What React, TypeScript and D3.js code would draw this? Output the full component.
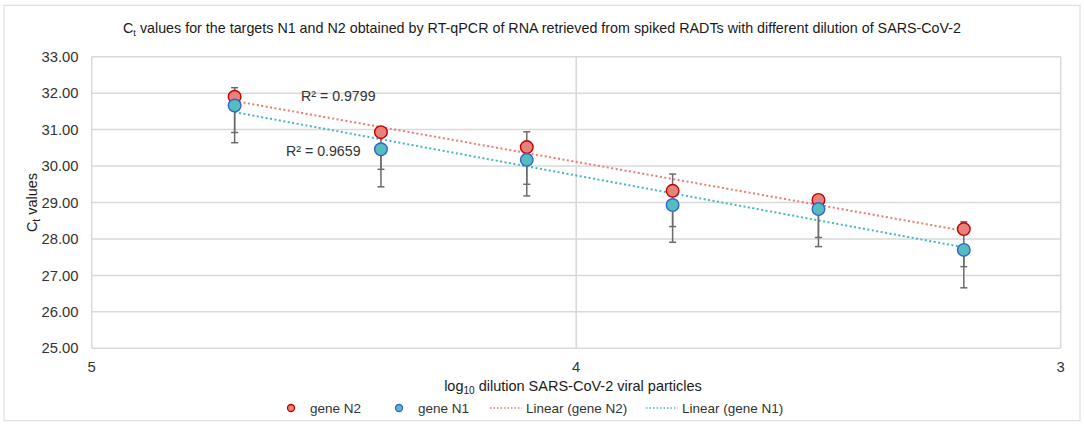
import React from "react";
import * as d3 from "d3";

// log10 dilution of viral particles (x) and mean Ct values
const dilutions = [4.705, 4.403, 4.102, 3.801, 3.5, 3.2];
const ctN2 = [31.9, 30.93, 30.52, 29.32, 29.07, 28.27];
const ctN1 = [31.66, 30.46, 30.17, 28.93, 28.82, 27.7];
const errN2Plus = [0.25, 0, 0.42, 0.46, 0, 0.2];
const errN2Minus = [0.98, 1.02, 1.02, 0.98, 1.03, 1.03];
const errN1Minus = [1.02, 1.03, 0.99, 1.02, 1.03, 1.04];
const yTicks = [25, 26, 27, 28, 29, 30, 31, 32, 33];
const xTicks = [5, 4, 3];
const r2Labels = ["R² = 0.9799", "R² = 0.9659"];

const W = 1084;
const H = 427;
const font = "'Liberation Sans', Arial, Helvetica, sans-serif";

const fit = (xs: number[], ys: number[]) => {
  const mx = d3.mean(xs)!;
  const my = d3.mean(ys)!;
  const b =
    d3.sum(xs, (x, i) => (x - mx) * (ys[i] - my)) /
    d3.sum(xs, (x) => (x - mx) ** 2);
  return (x: number) => my + b * (x - mx);
};

export default function App() {
  const x = d3.scaleLinear().domain([5, 3]).range([91.7, 1060.7]);
  const y = d3.scaleLinear().domain([25, 33]).range([348.3, 56.7]);

  const series = [
    { name: "gene N2", vals: ctN2, fill: "#e8837b", stroke: "#c00000", trend: "#ea7b73" },
    { name: "gene N1", vals: ctN1, fill: "#52bebf", stroke: "#3c5fcf", trend: "#3fb9c2" },
  ];

  const xFirst = dilutions[0];
  const xLast = dilutions[dilutions.length - 1];

  const cap = 3.5;
  const errColor = "#6b6b6b";

  return (
    <svg
      width={W}
      height={H}
      style={{ position: "absolute", left: 0, top: 0, background: "#fff" }}
      fontFamily={font}
    >
      <rect x={4} y={5.3} width={1076} height={415.4} fill="#fff" stroke="#d9d9d9" strokeWidth={1} />

      <text x={542} y={33} textAnchor="middle" fontSize={14.3} fill="#1a1a1a">
        C<tspan fontSize={9.5} dy={3}>t</tspan>
        <tspan dy={-3}> values for the targets N1 and N2 obtained by RT-qPCR of RNA retrieved from spiked RADTs with different dilution of SARS-CoV-2</tspan>
      </text>

      {/* grid */}
      {yTicks.map((t) => (
        <line key={"gy" + t} x1={x(5)} x2={x(3)} y1={y(t)} y2={y(t)} stroke="#d9d9d9" strokeWidth={1.5} />
      ))}
      {xTicks.map((t) => (
        <line key={"gx" + t} x1={x(t)} x2={x(t)} y1={y(25)} y2={y(33)} stroke="#d9d9d9" strokeWidth={1.5} />
      ))}

      {yTicks.map((t) => (
        <text key={"ty" + t} x={78.5} y={y(t)} dy="0.35em" textAnchor="end" fontSize={14.8} fill="#333">
          {t.toFixed(2)}
        </text>
      ))}
      {xTicks.map((t) => (
        <text key={"tx" + t} x={x(t)} y={367} dy="0.35em" textAnchor="middle" fontSize={14.8} fill="#333">
          {t}
        </text>
      ))}

      <text transform={`translate(37,${(y(25) + y(33)) / 2}) rotate(-90)`} textAnchor="middle" fontSize={14.5} fill="#1a1a1a">
        C<tspan fontSize={10} dy={3}>t</tspan>
        <tspan dy={-3}> values</tspan>
      </text>

      <text x={573} y={391} textAnchor="middle" fontSize={14.5} fill="#1a1a1a">
        log<tspan fontSize={10} dy={3}>10</tspan>
        <tspan dy={-3}> dilution SARS-CoV-2 viral particles</tspan>
      </text>

      {/* trendlines */}
      {series.map((s) => {
        const f = fit(dilutions, s.vals);
        const path = d3.line()([
          [x(xFirst), y(f(xFirst))],
          [x(xLast), y(f(xLast))],
        ]);
        return (
          <path key={"tr" + s.name} d={path as string} stroke={s.trend} strokeWidth={2} strokeDasharray="2,2.5" fill="none" />
        );
      })}

      {/* error bars */}
      {dilutions.map((d, i) => {
        const cx = x(d);
        const bars = [
          [ctN2[i] + errN2Plus[i], ctN2[i] - errN2Minus[i]],
          [ctN1[i], ctN1[i] - errN1Minus[i]],
        ];
        return (
          <g key={"e" + i} stroke={errColor} strokeWidth={1.5}>
            {bars.map(([hi, lo], j) => (
              <g key={j}>
                <line x1={cx} x2={cx} y1={y(hi)} y2={y(lo)} />
                <line x1={cx - cap} x2={cx + cap} y1={y(hi)} y2={y(hi)} />
                <line x1={cx - cap} x2={cx + cap} y1={y(lo)} y2={y(lo)} />
              </g>
            ))}
          </g>
        );
      })}

      {/* markers: N2 first, then N1 on top */}
      {series.map((s) =>
        s.vals.map((v, i) => (
          <circle key={s.name + i} cx={x(dilutions[i])} cy={y(v)} r={6.3} fill={s.fill} stroke={s.stroke} strokeWidth={1.4} />
        ))
      )}

      <text x={301} y={96} dy="0.35em" fontSize={14.2} fill="#333">{r2Labels[0]}</text>
      <text x={286} y={151} dy="0.35em" fontSize={14.2} fill="#333">{r2Labels[1]}</text>

      {/* legend */}
      <g fontSize={13.5} fill="#333">
        <circle cx={291} cy={408} r={3.5} fill={series[0].fill} stroke={series[0].stroke} strokeWidth={1.3} />
        <text x={310} y={408} dy="0.35em">gene N2</text>
        <circle cx={399} cy={408} r={3.5} fill={series[1].fill} stroke={series[1].stroke} strokeWidth={1.3} />
        <text x={418} y={408} dy="0.35em">gene N1</text>
        <line x1={490} x2={522} y1={408} y2={408} stroke={series[0].trend} strokeWidth={1.5} strokeDasharray="1.5,2" />
        <text x={526} y={408} dy="0.35em">Linear (gene N2)</text>
        <line x1={646} x2={678} y1={408} y2={408} stroke={series[1].trend} strokeWidth={1.5} strokeDasharray="1.5,2" />
        <text x={682} y={408} dy="0.35em">Linear (gene N1)</text>
      </g>
    </svg>
  );
}
